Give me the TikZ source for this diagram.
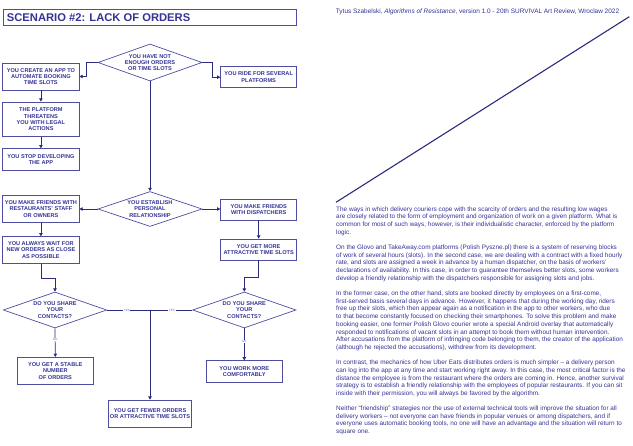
\documentclass[tikz,border=0pt]{standalone}
\usepackage{fontspec}
\setmainfont{Liberation Sans}
\usetikzlibrary{arrows.meta,shapes.geometric}
\definecolor{navy}{RGB}{44,44,125}
\definecolor{ink}{RGB}{52,52,150}
\definecolor{boxline}{RGB}{78,78,160}
\begin{document}
\begin{tikzpicture}[x=1pt,y=-1pt,
  box/.style={draw=boxline, line width=0.7pt, fill=white, font=\bfseries\fontsize{5.6}{6.3}\selectfont, text=ink, align=center, inner sep=0pt, minimum width=76.3pt},
  dia/.style={diamond, draw=boxline, line width=0.7pt, fill=white, aspect=2.8, inner sep=0pt, font=\bfseries\fontsize{5.6}{6.3}\selectfont, text=ink, align=center},
  arr/.style={draw=navy, line width=0.7pt, -{Triangle[length=3.2pt,width=3.4pt]}},
  conn/.style={draw=navy, line width=0.7pt},
  lab/.style={font=\fontsize{3}{3}\selectfont, text=boxline!80, fill=white, inner sep=0.6pt},
  para/.style={anchor=north west, align=left, inner sep=0pt, font=\fontsize{6.4}{7.68}\selectfont, text=ink}]
\fill[white] (0,0) rectangle (633,446);
\useasboundingbox (0,0) rectangle (633,446);

% title
\node[draw=boxline, line width=0.7pt, minimum width=293.7pt, minimum height=16.4pt, inner sep=0pt] (title) at (149.85,17.5) {};
\node[anchor=west, inner sep=0pt, font=\bfseries\fontsize{11.2}{12}\selectfont, text=ink] (titletext) at (6.7,17.8) {SCENARIO \#2: LACK OF ORDERS};

% diamonds
\node[dia, minimum width=104pt, minimum height=37pt] (d1) at (150,62.5) {YOU HAVE NOT\\ENOUGH ORDERS\\OR TIME SLOTS};
\node[dia, minimum width=104pt, minimum height=35pt] (d2) at (150,209) {YOU ESTABLISH\\PERSONAL\\RELATIONSHIP};
\node[dia, minimum width=103.4pt, minimum height=36pt] (d3) at (55,310) {DO YOU SHARE\\YOUR\\CONTACTS?};
\node[dia, minimum width=103.4pt, minimum height=36pt] (d4) at (244.3,310) {DO YOU SHARE\\YOUR\\CONTACTS?};

% boxes
\node[box, minimum height=27pt] (a) at (40.9,76.5) {YOU CREATE AN APP TO\\AUTOMATE BOOKING\\TIME SLOTS};
\node[box, minimum width=76pt, minimum height=21pt] (b) at (258.7,77.2) {YOU RIDE FOR SEVERAL\\PLATFORMS};
\node[box, minimum height=34.7pt] (c) at (40.9,119.3) {THE PLATFORM\\THREATENS\\YOU WITH LEGAL\\ACTIONS};
\node[box, minimum height=21.3pt] (d) at (40.9,159.3) {YOU STOP DEVELOPING\\THE APP};
\node[box, minimum height=26.6pt] (e) at (40.9,209) {YOU MAKE FRIENDS WITH\\RESTAURANTS' STAFF\\OR OWNERS};
\node[box, minimum width=76pt, minimum height=21pt] (f) at (258.7,209.5) {YOU MAKE FRIENDS\\WITH DISPATCHERS};
\node[box, minimum height=26.6pt] (g) at (40.9,250) {YOU ALWAYS WAIT FOR\\NEW ORDERS AS CLOSE\\AS POSSIBLE};
\node[box, minimum width=76pt, minimum height=21pt] (h) at (258.7,249.5) {YOU GET MORE\\ATTRACTIVE TIME SLOTS};
\node[box, minimum width=83.4pt, minimum height=27.3pt] (i) at (150,413.7) {YOU GET FEWER ORDERS\\OR ATTRACTIVE TIME SLOTS};
\node[box, minimum width=76pt, minimum height=27pt] (j) at (55.3,370.8) {YOU GET A STABLE\\NUMBER\\OF ORDERS};
\node[box, minimum width=76.7pt, minimum height=21.6pt] (k) at (244.3,371.5) {YOU WORK MORE\\COMFORTABLY};

% connectors
\draw[arr] (d1.west) -- ++(-11,0) |- (a.east);
\draw[arr] (d1.east) -- ++(9.7,0) |- (b.west);
\draw[arr] (a.south) -- (c.north);
\draw[arr] (c.south) -- (d.north);
\draw[arr] (d1.south) -- (d2.north);
\draw[arr] (d2.west) -- (e.east);
\draw[arr] (d2.east) -- (d2.east -| f.west);
\draw[arr] (e.south) -- (g.north);
\draw[arr] (f.south) -- (h.north);
\draw[arr] (g.south) -- ++(0,14.4) -| (d3.north);
\draw[arr] (h.south) -- ++(0,17.4) -| (d4.north);
\coordinate (join) at (150,310);
\draw[conn] (d3.east) -- node[lab, pos=0.46] {YES} (join);
\draw[conn] (d4.west) -- node[lab, pos=0.48] {YES} (join);
\draw[arr] (join) -- (i.north);
\draw[arr] (d3.south) -- node[lab, pos=0.38] {NO} (j.north);
\draw[arr] (d4.south) -- node[lab, pos=0.42] {NO} (k.north);

% right side
\node[anchor=west, inner sep=0pt, font=\fontsize{6.45}{7}\selectfont, text=ink] (header) at (335.7,12.3) {Tytus Szabelski, \textit{Algorithms of Resistance}, version 1.0 - 20th SURVIVAL Art Review, Wroclaw 2022};
\coordinate (dlow) at (336,202.3);
\coordinate (dhigh) at (629.3,16.7);
\draw[navy, line width=1.1pt] (dlow) -- (dhigh);

\node[para] (p1) at (336,206.3) {The ways in which delivery couriers cope with the scarcity of orders and the resulting low wages\\
are closely related to the form of employment and organization of work on a given platform. What is\\
common for most of such ways, however, is their individualistic character, enforced by the platform\\
logic.};
\node[para] (p2) at (336,244.7) {On the Glovo and TakeAway.com platforms (Polish Pyszne.pl) there is a system of reserving blocks\\
of work of several hours (slots). In the second case, we are dealing with a contract with a fixed hourly\\
rate, and slots are assigned a week in advance by a human dispatcher, on the basis of workers'\\
declarations of availability. In this case, in order to guarantee themselves better slots, some workers\\
develop a friendly relationship with the dispatchers responsible for assigning slots and jobs.};
\node[para] (p3) at (336,290.8) {In the former case, on the other hand, slots are booked directly by employees on a first-come,\\
first-served basis several days in advance. However, it happens that during the working day, riders\\
free up their slots, which then appear again as a notification in the app to other workers, who due\\
to that become constantly focused on checking their smartphones. To solve this problem and make\\
booking easier, one former Polish Glovo courier wrote a special Android overlay that automatically\\
responded to notifications of vacant slots in an attempt to book them without human intervention.\\
After accusations from the platform of infringing code belonging to them, the creator of the application\\
(although he rejected the accusations), withdrew from its development.};
\node[para] (p4) at (336,360.1) {In contrast, the mechanics of how Uber Eats distributes orders is much simpler – a delivery person\\
can log into the app at any time and start working right away. In this case, the most critical factor is the\\
distance the employee is from the restaurant where the orders are coming in. Hence, another survival\\
strategy is to establish a friendly relationship with the employees of popular restaurants. If you can sit\\
inside with their permission, you will always be favored by the algorithm.};
\node[para] (p5) at (336,405.8) {Neither “friendship” strategies nor the use of external technical tools will improve the situation for all\\
delivery workers – not everyone can have friends in popular venues or among dispatchers, and if\\
everyone uses automatic booking tools, no one will have an advantage and the situation will return to\\
square one.};
\end{tikzpicture}
\end{document}
